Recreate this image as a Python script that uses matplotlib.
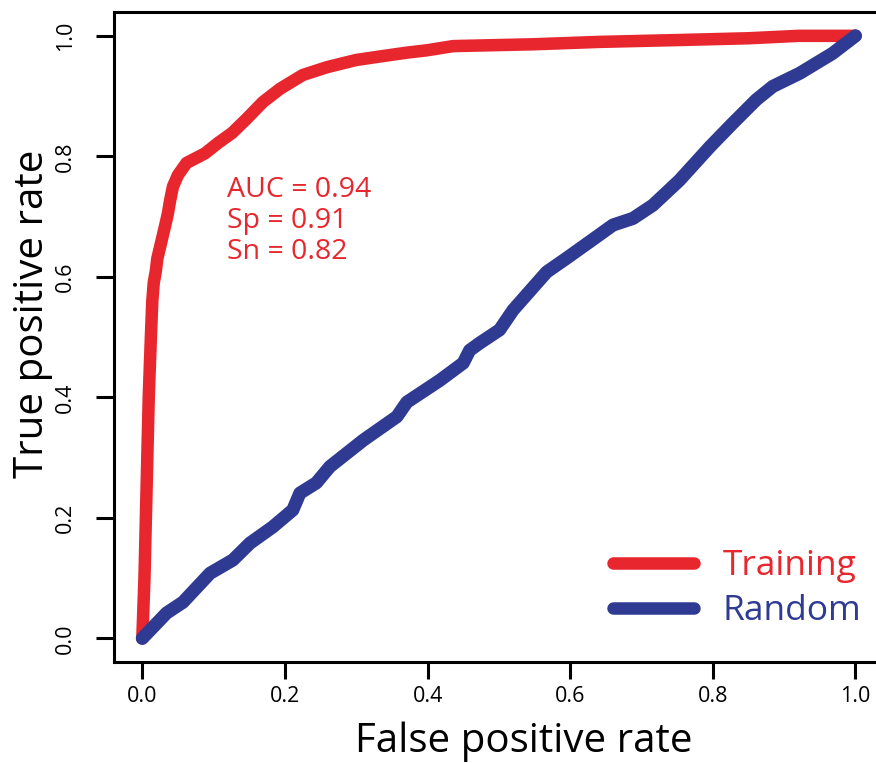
import numpy as np
import matplotlib
matplotlib.use('Agg')
import matplotlib.pyplot as plt

# ROC curve points
train_fpr = [0.0, 0.003, 0.006, 0.009, 0.012, 0.014, 0.016, 0.019, 0.021, 0.027, 0.033,
             0.036, 0.039, 0.043, 0.050, 0.062, 0.075, 0.088, 0.106, 0.126, 0.146,
             0.169, 0.193, 0.225, 0.259, 0.300, 0.329, 0.370, 0.399, 0.436, 0.548,
             0.642, 0.750, 0.850, 0.920, 1.0]
train_tpr = [0.0, 0.10, 0.25, 0.40, 0.50, 0.56, 0.59, 0.61, 0.63, 0.66, 0.69,
             0.706, 0.727, 0.750, 0.769, 0.789, 0.797, 0.805, 0.822, 0.839, 0.862,
             0.890, 0.912, 0.935, 0.948, 0.960, 0.965, 0.972, 0.976, 0.983, 0.986,
             0.990, 0.993, 0.996, 1.0, 1.0]

rand_fpr = [0.0, 0.034, 0.057, 0.095, 0.127, 0.151, 0.183, 0.211, 0.221, 0.244, 0.263,
            0.310, 0.357, 0.371, 0.417, 0.450, 0.459, 0.473, 0.501, 0.520, 0.567,
            0.595, 0.627, 0.660, 0.688, 0.716, 0.753, 0.796, 0.828, 0.861, 0.884,
            0.922, 0.968, 1.0]
rand_tpr = [0.0, 0.042, 0.060, 0.108, 0.130, 0.158, 0.185, 0.213, 0.241, 0.258, 0.285,
            0.329, 0.368, 0.392, 0.428, 0.457, 0.478, 0.490, 0.512, 0.545, 0.608,
            0.631, 0.658, 0.686, 0.697, 0.719, 0.760, 0.816, 0.855, 0.894, 0.916,
            0.938, 0.971, 1.0]

stats = ['AUC = 0.94', 'Sp = 0.91', 'Sn = 0.82']
ticks = [0.0, 0.2, 0.4, 0.6, 0.8, 1.0]
tick_labels = ['0.0', '0.2', '0.4', '0.6', '0.8', '1.0']

red = '#E8262E'
blue = '#2F3A92'
font = 'Open Sans'

fig = plt.figure(figsize=(8.76, 7.63), dpi=100)
ax = fig.add_axes([0.1299, 0.1318, 0.8792, 0.8528])

l1, = ax.plot(train_fpr, train_tpr, color=red, lw=9,
              solid_capstyle='round', solid_joinstyle='round')
l2, = ax.plot(rand_fpr, rand_tpr, color=blue, lw=9.5,
              solid_capstyle='round', solid_joinstyle='round')

ax.set_xlim(-0.04, 1.04)
ax.set_ylim(-0.04, 1.04)
ax.set_xticks(ticks)
ax.set_xticklabels(tick_labels, fontsize=15.5, family=font)
ax.set_yticks(ticks)
ax.set_yticklabels(tick_labels, fontsize=15.5, family=font, rotation=90, va='center')
ax.tick_params(axis='x', length=12, width=2.2, pad=5)
ax.tick_params(axis='y', length=13, width=2.2, pad=14)
for s in ax.spines.values():
    s.set_linewidth(2.2)

# stats annotation
for i, s in enumerate(stats):
    ax.text(0.119, 0.7325 - i * 0.0515, s, color=red, fontsize=20.5,
            family=font, va='baseline', ha='left')

leg = ax.legend([l1, l2], ['Training', 'Random'], loc='upper left',
                bbox_to_anchor=(613 / 876, (763 - 549) / 763),
                bbox_transform=fig.transFigure, frameon=False,
                prop={'family': font, 'size': 25.5}, handlelength=2.3,
                handletextpad=0.8, labelspacing=0.32, borderpad=0,
                borderaxespad=0)
for t, c in zip(leg.get_texts(), [red, blue]):
    t.set_color(c)
for h in leg.get_lines():
    h.set_linewidth(9)
    h.set_solid_capstyle('round')

fig.text(524 / 876, (763 - 752) / 763, 'False positive rate', fontsize=29,
         family=font, ha='center', va='baseline')
fig.text(43 / 876, (763 - 314) / 763, 'True positive rate', fontsize=29,
         family=font, ha='center', va='baseline', rotation=90,
         rotation_mode='anchor')

fig.savefig('out.png', dpi=100)
plt.close()
